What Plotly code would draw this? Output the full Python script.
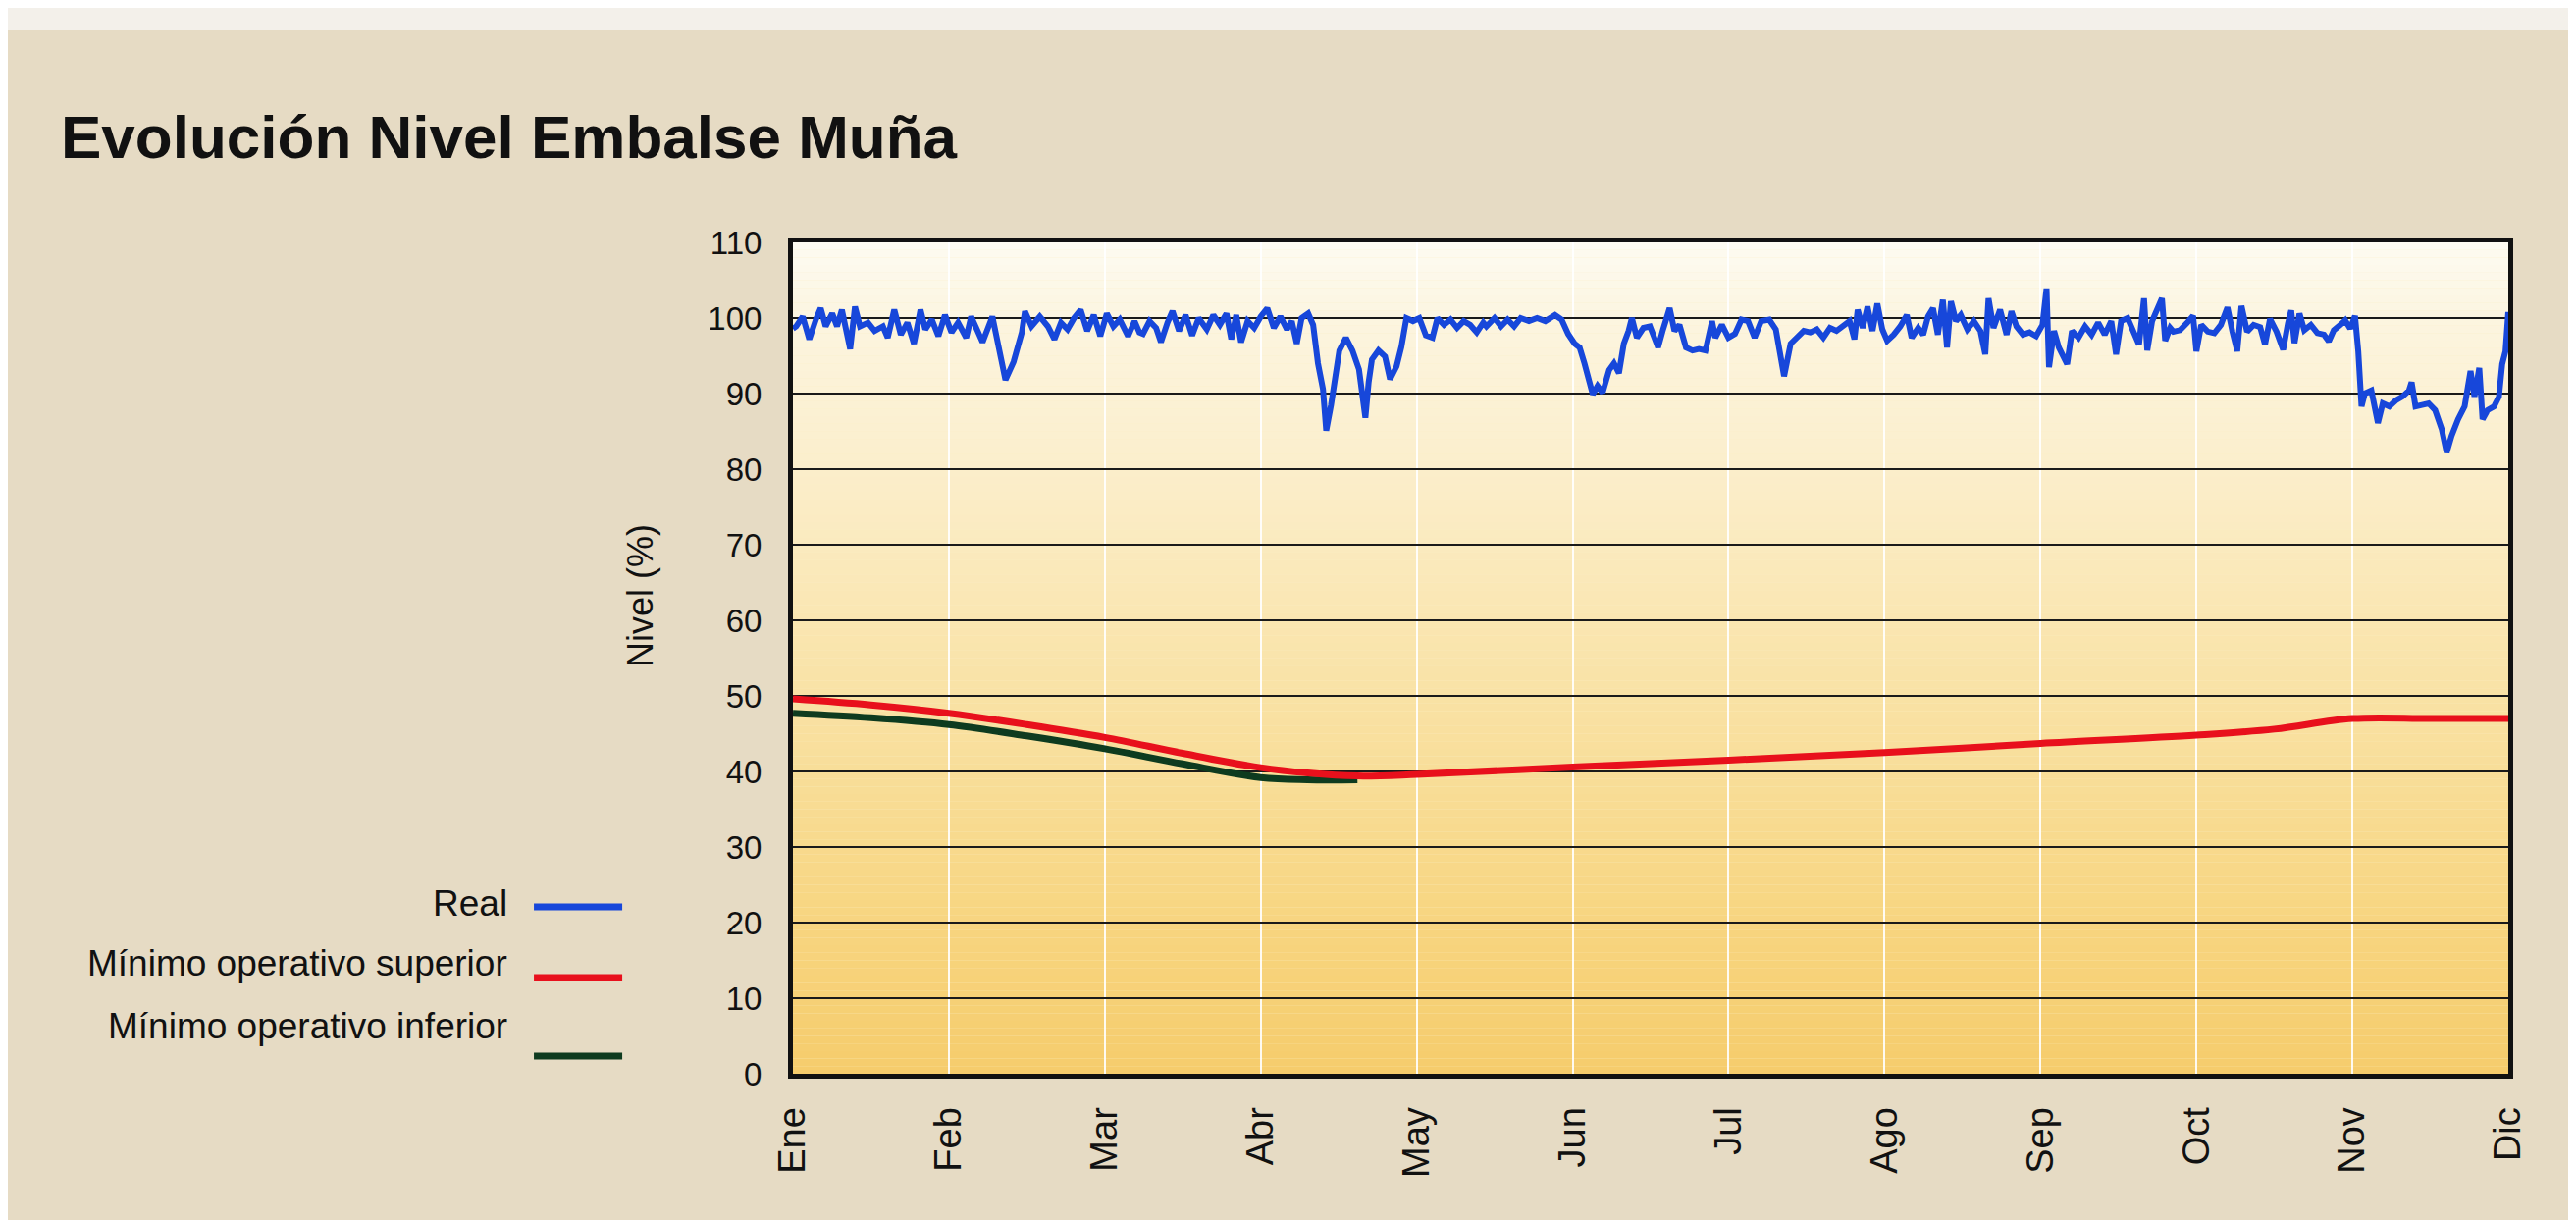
import plotly.graph_objects as go

# ---------------- data ----------------
months = ["Ene", "Feb", "Mar", "Abr", "May", "Jun", "Jul", "Ago", "Sep", "Oct", "Nov", "Dic"]
month_pos = list(range(12))
y_ticks = list(range(0, 111, 10))

real_x = [0.0, 0.021, 0.063, 0.105, 0.147, 0.178, 0.21, 0.252, 0.283, 0.314, 0.367, 0.398, 0.43, 0.482, 0.524,
          0.577, 0.608, 0.65, 0.692, 0.734, 0.776, 0.818, 0.849, 0.891, 0.933, 0.975, 1.017, 1.059, 1.111, 1.143,
          1.184, 1.216, 1.279, 1.321, 1.363, 1.415, 1.468, 1.488, 1.53, 1.583, 1.635, 1.677, 1.719, 1.761, 1.803,
          1.845, 1.887, 1.929, 1.971, 2.013, 2.055, 2.096, 2.149, 2.191, 2.222,
          2.245, 2.287, 2.329, 2.36, 2.402, 2.434, 2.476, 2.518, 2.56, 2.602, 2.654, 2.696, 2.738, 2.78, 2.811,
          2.843, 2.874, 2.916, 2.958, 3.0, 3.042, 3.084, 3.126, 3.168, 3.199, 3.231, 3.262, 3.304, 3.336, 3.367,
          3.399, 3.42, 3.451, 3.483, 3.504, 3.546, 3.588, 3.63, 3.671, 3.692, 3.713, 3.755, 3.797, 3.829, 3.871,
          3.902, 3.934, 3.976, 4.017, 4.059, 4.101, 4.133, 4.175, 4.217, 4.259, 4.301, 4.343, 4.385, 4.427,
          4.447, 4.499, 4.541, 4.583, 4.625, 4.667, 4.72, 4.772, 4.825, 4.887, 4.929, 4.971, 5.013, 5.045, 5.076,
          5.108, 5.129, 5.16, 5.192, 5.234, 5.265, 5.297, 5.328, 5.359, 5.38, 5.412, 5.454, 5.496, 5.548, 5.58,
          5.622, 5.653, 5.685, 5.727, 5.769, 5.81, 5.852, 5.894, 5.915, 5.957, 5.999, 6.041, 6.083, 6.125, 6.167,
          6.209, 6.261, 6.303, 6.335, 6.356, 6.398, 6.44, 6.482, 6.524, 6.566, 6.608,
          6.65, 6.692, 6.734, 6.776, 6.807, 6.828, 6.86, 6.891, 6.923, 6.954, 6.986, 7.017, 7.059, 7.101, 7.143,
          7.174, 7.216, 7.248, 7.279, 7.311, 7.342, 7.374, 7.401, 7.426, 7.458, 7.489, 7.531, 7.573, 7.615, 7.646,
          7.667, 7.699, 7.741, 7.783, 7.814, 7.846, 7.888, 7.93, 7.972, 8.013, 8.039, 8.055, 8.087, 8.118, 8.171,
          8.202, 8.244, 8.286, 8.328, 8.37, 8.412, 8.454, 8.485, 8.517, 8.559, 8.601, 8.632, 8.664, 8.685, 8.716,
          8.748, 8.779, 8.8, 8.832,
          8.853, 8.895, 8.937, 8.979, 9.0, 9.031, 9.073, 9.115, 9.157, 9.199, 9.231, 9.262, 9.289, 9.325, 9.367,
          9.409, 9.44, 9.472, 9.514, 9.556, 9.587, 9.608, 9.629, 9.661, 9.692, 9.734, 9.776, 9.818, 9.849, 9.881,
          9.923, 9.954, 9.986, 10.017, 10.038, 10.059, 10.08, 10.122, 10.164, 10.195, 10.237, 10.279, 10.321,
          10.363, 10.38, 10.405, 10.447, 10.489, 10.531, 10.573, 10.605, 10.636, 10.678, 10.72, 10.758, 10.783,
          10.814, 10.835, 10.867, 10.909, 10.94, 10.961, 10.982, 11.0]

real_level = [98.6, 98.9, 100.2, 97.2, 99.8, 101.3, 98.9, 100.6, 98.9, 101.1, 95.9, 101.5, 98.9, 99.4, 98.3,
              98.9, 97.4, 101.1, 97.8, 99.4, 96.6, 101.1, 98.5, 99.8, 97.6, 100.4, 98.1, 99.4, 97.4, 100.2,
              98.3, 96.8, 100.2, 95.5, 91.8, 94.2, 98.1, 100.9, 98.9, 100.2, 98.9, 97.2, 99.4, 98.5, 100.0,
              101.1, 98.3, 100.4, 97.6, 100.6, 98.9, 99.8, 97.6, 99.6, 98.1,
              97.9, 99.6, 98.7, 96.8, 99.4, 100.9, 98.3, 100.4, 97.7, 100.0, 98.5, 100.4, 99.1, 100.6, 97.2,
              100.4, 96.8, 99.6, 98.7, 100.2, 101.3, 98.7, 100.2, 98.5, 99.6, 96.6, 100.0, 100.6, 99.1, 94.0,
              90.6, 85.1, 88.5, 92.8, 95.7, 97.4, 95.7, 93.2, 86.8, 91.5, 94.5, 95.7, 94.9, 91.9, 93.6,
              96.2, 100.0, 99.6, 100.0, 97.7, 97.4, 100.0, 99.1, 99.8, 98.7, 99.6, 99.1, 98.1, 99.4,
              98.9, 100.0, 98.9, 99.8, 98.9, 100.0, 99.6, 100.0, 99.6, 100.4, 99.8, 97.9, 96.6, 96.1, 94.0,
              91.8, 89.9, 91.0, 90.1, 93.1, 94.0, 92.7, 96.6, 98.3, 100.0, 97.4, 98.7, 98.9, 96.1, 98.5,
              101.3, 98.3, 99.1, 96.1, 95.7, 95.9, 95.7, 99.6, 97.4, 99.1, 97.4, 97.9, 99.8, 99.6, 97.4,
              99.6, 99.8, 98.5, 95.3, 92.3, 96.6, 97.4, 98.3, 98.1, 98.5, 97.4,
              98.7, 98.3, 98.9, 99.6, 97.2, 101.1, 98.7, 101.5, 98.3, 101.9, 98.5, 97.0, 97.8, 98.9, 100.4,
              97.4, 98.7, 97.8, 100.2, 101.3, 97.8, 102.4, 96.1, 102.2, 99.6, 100.4, 98.5, 99.6, 98.3, 95.2,
              102.6, 98.7, 101.1, 97.8, 100.9, 98.9, 97.8, 98.1, 97.6, 99.1, 103.9, 93.5, 98.3, 96.1, 93.9,
              98.3, 97.4, 98.9, 97.8, 99.4, 97.8, 99.6, 95.2, 99.6, 100.0, 97.8, 96.5, 102.6, 95.7, 99.6,
              101.1, 102.6, 97.0, 98.7,
              98.2, 98.4, 99.3, 100.3, 95.6, 99.1, 98.2, 98.0, 99.1, 101.4, 98.2, 95.6, 101.6, 98.2, 99.1,
              98.8, 96.5, 99.9, 98.2, 95.8, 99.3, 101.0, 96.7, 100.6, 98.4, 99.1, 98.0, 97.8, 96.9, 98.4,
              99.1, 99.7, 98.6, 100.3, 95.6, 88.3, 90.0, 90.4, 86.1, 88.7, 88.3, 89.1, 89.6,
              90.4, 91.5, 88.3, 88.5, 88.7, 87.8, 85.3, 82.2, 84.4, 86.6, 88.3, 93.0, 89.6,
              93.4, 86.6, 87.8, 88.3, 89.6, 93.9, 95.6, 100.8]

sup_x = [0.0, 0.5, 1.0, 1.5, 2.0, 2.5, 3.0, 3.3, 3.62, 4.0, 5.0, 6.0, 7.0, 8.0, 9.0, 9.5, 10.0, 10.5, 11.0]
sup_level = [49.6, 48.8, 47.7, 46.2, 44.5, 42.4, 40.5, 39.8, 39.4, 39.6, 40.6, 41.5, 42.5, 43.7, 44.8, 45.6, 47.0, 47.0, 47.0]

inf_x = [0.0, 0.5, 1.0, 1.5, 2.0, 2.5, 3.0, 3.3, 3.62]
inf_level = [47.7, 47.1, 46.2, 44.7, 43.0, 41.0, 39.2, 38.9, 38.9]

legend_labels = ["Real", "Mínimo operativo superior", "Mínimo operativo inferior"]

# ---------------- style ----------------
FONT = "Liberation Sans, Arial, Helvetica, sans-serif"
BLUE = "#1747da"
RED = "#e8101c"
GREEN = "#0e3b1f"
PAPER = "#e6dbc4"

fig = go.Figure()
fig.add_trace(go.Scatter(x=inf_x, y=inf_level, mode="lines", line=dict(color=GREEN, width=7, shape="spline"),
                         name=legend_labels[2], showlegend=False))
fig.add_trace(go.Scatter(x=sup_x, y=sup_level, mode="lines", line=dict(color=RED, width=7, shape="spline"),
                         name=legend_labels[1], showlegend=False))
fig.add_trace(go.Scatter(x=real_x, y=real_level, mode="lines", line=dict(color=BLUE, width=6),
                         name=legend_labels[0], showlegend=False))

# background gradient inside the plot area (style only)
stops = [(0, (246, 204, 108)), (20, (247, 213, 128)), (50, (249, 226, 165)), (80, (251, 238, 203)),
         (100, (252, 245, 224)), (110, (253, 251, 242))]


def col_at(v):
    for (v0, c0), (v1, c1) in zip(stops[:-1], stops[1:]):
        if v0 <= v <= v1:
            t = (v - v0) / (v1 - v0)
            return "rgb(%d,%d,%d)" % tuple(round(a + (b - a) * t) for a, b in zip(c0, c1))
    return "rgb(%d,%d,%d)" % stops[-1][1]


shapes = []
step = 1
for k in range(0, 110, step):
    shapes.append(dict(type="rect", xref="x domain", yref="y", x0=0, x1=1, y0=k, y1=k + step,
                       fillcolor=col_at(k + step / 2), line=dict(width=0), layer="below"))

# scan strip at the very top
shapes.append(dict(type="rect", xref="paper", yref="paper", x0=-0.5, x1=1.1, y0=1.255, y1=1.3,
                   fillcolor="#f3f0ea", line=dict(width=0), layer="below"))

# legend samples (drawn by hand: the sample sits right of the text)
leg_text_y = [0.2054, 0.1334, 0.0567]
leg_line_y = [0.2007, 0.1157, 0.0213]
leg_cols = [BLUE, RED, GREEN]
annotations = []
for lab, ty, ly, c in zip(legend_labels, leg_text_y, leg_line_y, leg_cols):
    annotations.append(dict(text=lab, xref="paper", yref="paper", x=-0.1653, y=ty, xanchor="right",
                            yanchor="middle", showarrow=False, font=dict(family=FONT, size=37, color="#111")))
    shapes.append(dict(type="line", xref="paper", yref="paper", x0=-0.151, x1=-0.0995, y0=ly, y1=ly,
                       line=dict(color=c, width=7)))

annotations.append(dict(text="<b>Evolución Nivel Embalse Muña</b>", xref="paper", yref="paper", x=-0.428,
                        y=1.1275, xanchor="left", yanchor="middle", showarrow=False,
                        font=dict(family=FONT, size=62, color="#111")))
annotations.append(dict(text="Nivel (%)", xref="paper", yref="paper", x=-0.0887, y=0.575, textangle=-90,
                        xanchor="center", yanchor="middle", showarrow=False,
                        font=dict(family=FONT, size=36, color="#111")))

fig.update_layout(
    width=2625, height=1243,
    margin=dict(l=800, r=77, t=239, b=157, autoexpand=False),
    paper_bgcolor=PAPER, plot_bgcolor="#fbeec4",
    shapes=shapes, annotations=annotations, showlegend=False,
    font=dict(family=FONT, color="#111"),
)
fig.update_xaxes(range=[0, 11], tickmode="array", tickvals=month_pos, ticktext=months, tickangle=-90,
                 showgrid=True, gridcolor="rgba(255,255,255,0.9)", gridwidth=2,
                 showline=True, linecolor="#111", linewidth=5, mirror=True,
                 ticks="outside", ticklen=14, tickcolor="rgba(0,0,0,0)",
                 tickfont=dict(family=FONT, size=38, color="#111"), zeroline=False, automargin=False)
fig.update_yaxes(range=[0, 110], tickmode="array", tickvals=y_ticks, showgrid=True, gridcolor="#1a1a1a",
                 gridwidth=2, showline=True, linecolor="#111", linewidth=5, mirror=True,
                 ticks="outside", ticklen=20, tickcolor="rgba(0,0,0,0)",
                 tickfont=dict(family=FONT, size=33, color="#111"), zeroline=False, automargin=False)

fig.write_html("out.html")
